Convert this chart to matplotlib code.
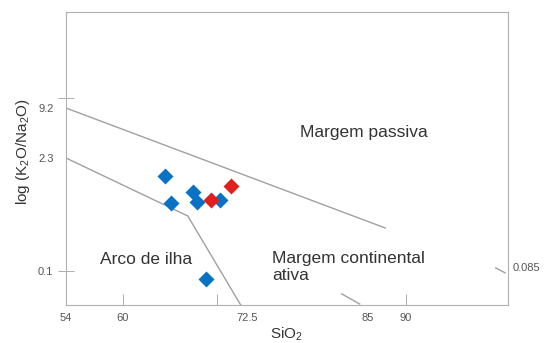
import matplotlib.pyplot as plt

plt.rcParams['font.family'] = ['Liberation Sans', 'DejaVu Sans']
plt.rcParams['mathtext.default'] = 'regular'

# samples
blue_x = [64.5, 65.1, 67.5, 67.9, 70.3, 68.8]
blue_y = [1.41, 0.665, 0.90, 0.684, 0.717, 0.079]
red_x = [69.4, 71.5]
red_y = [0.717, 1.06]

# boundary lines
upper_x = [54, 87.8]
upper_y = [9.2, 0.33]
lower_x = [54, 66.9, 72.5]
lower_y = [2.3, 0.46, 0.039]
short_x = [83.2, 85.1]
short_y = [0.053, 0.040]
right_x = [99.5, 100.5]
right_y = [0.109, 0.095]

xtick_pos = [54, 60, 73.2, 86, 90]
xtick_lab = ['54', '60', '72.5', '85', '90']
ytick_pos = [0.1, 2.3, 9.2]
ytick_lab = ['0.1', '2.3', '9.2']

fig = plt.figure(figsize=(5.45, 3.43), dpi=100)
ax = fig.add_axes([0.121, 0.111, 0.811, 0.854])
ax.set_yscale('log')
ax.set_xlim(54, 100.8)
ax.set_ylim(0.039, 132)

lc = '#a0a0a0'
ax.plot(upper_x, upper_y, color=lc, lw=1)
ax.plot(lower_x, lower_y, color=lc, lw=1)
ax.plot(short_x, short_y, color=lc, lw=1)
ax.plot(right_x, right_y, color=lc, lw=1)

ax.plot(blue_x, blue_y, 'D', color='#0a72c4', ms=8, mec='none')
ax.plot(red_x, red_y, 'D', color='#e0201c', ms=8, mec='none')

ax.xaxis.remove_overlapping_locs = False
ax.yaxis.remove_overlapping_locs = False
ax.set_xticks(xtick_pos, xtick_lab)
ax.set_xticks([60, 70, 90], minor=True)
ax.set_yticks(ytick_pos, ytick_lab)
ax.set_yticks([0.1, 12], minor=True)
ax.yaxis.set_minor_formatter(plt.NullFormatter())
ax.xaxis.set_minor_formatter(plt.NullFormatter())
ax.tick_params(which='major', length=0, labelsize=8, labelcolor='#555555', pad=6)
ax.tick_params(axis='y', which='major', pad=9)
ax.tick_params(axis='x', which='minor', length=8, direction='in', color=lc)
ax.tick_params(axis='y', which='minor', length=12, direction='inout', color=lc)
for s in ax.spines.values():
    s.set_color('#b0b0b0')

ax.set_xlabel('SiO$_2$', fontsize=11, color='#333333', labelpad=2)
ax.set_ylabel('log (K$_2$O/Na$_2$O)', fontsize=11, color='#333333')
ax.yaxis.set_label_coords(32 / 545, 1 - 152 / 343, transform=fig.transFigure)

ax.text(300, 133, 'Margem passiva', transform=None, fontsize=12.5, color='#333333')
ax.text(100, 260, 'Arco de ilha', transform=None, fontsize=12.5, color='#333333')
ax.text(272, 251, 'Margem continental\nativa', transform=None, fontsize=12.5,
        color='#333333', va='top', linespacing=1.2)
ax.text(513, 268, '0.085', transform=None, fontsize=8, color='#555555', va='center')

# text positions given in pixels from the top-left; convert
for t in ax.texts:
    x, y = t.get_position()
    t.set_position((x / 545, 1 - y / 343))
    t.set_transform(fig.transFigure)
ax.texts[0].set_va('center')
ax.texts[1].set_va('center')

fig.savefig('out.png', dpi=100)
